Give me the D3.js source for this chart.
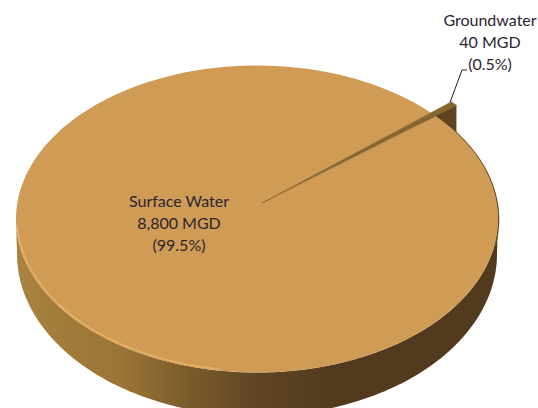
<!DOCTYPE html>
<html>
<head>
<meta charset="utf-8">
<script src="https://cdn.jsdelivr.net/npm/d3@7/dist/d3.min.js"></script>
<style>
    html, body { margin: 0; padding: 0; background: #fff; }
    svg { display: block; }
</style>
</head>
<body>
<div id="chart"></div>
<script>
const categories = ['Surface Water', 'Groundwater']
const flows = [8800, 40] // MGD
const shares = ['99.5%', '0.5%']

const width = 538, height = 408

// top face, bottom edge and the point the slices meet at
const top_face = {cx: 257, cy: 219, rx: 241, ry: 153.5}
const bottom_face = {cx: 257, cy: 254, rx: 240, ry: 162}
const apex = [262, 203]
const lift = 1.12 // how far the small slice is pulled out
const first_angle = 46.2 * Math.PI / 180

const svg = d3.select('#chart').append('svg')
    .attr('width', width)
    .attr('height', height)

const defs = svg.append('defs')

const wall_fill = defs.append('linearGradient')
    .attr('id', 'wall')
    .attr('gradientUnits', 'userSpaceOnUse')
    .attr('x1', 16).attr('x2', 498).attr('y1', 0).attr('y2', 0)

const wall_stops = [[0, '#a9833f'], [0.1, '#a17b39'], [0.22, '#9a7536'], [0.36, '#7b5b2c'], [0.5, '#5f4523'], [0.66, '#523a1e'], [1, '#523a1e']]
wall_fill.selectAll('stop')
    .data(wall_stops)
    .enter()
    .append('stop')
    .attr('offset', d => d[0])
    .attr('stop-color', d => d[1])

const pie = d3.pie()
    .sort(null)
    .startAngle(first_angle)
    .endAngle(first_angle + 2 * Math.PI)

const slices = pie(flows.slice().reverse()) // small slice first, clockwise from there
const small = slices[0], big = slices[1]

function edge(face, a){
    return [face.cx + face.rx * Math.sin(a), face.cy - face.ry * Math.cos(a)]
}
// r = 1 sits on the rim of the top face
function project(a, r){
    const p = edge(top_face, a)
    return [apex[0] + r * (p[0] - apex[0]), apex[1] + r * (p[1] - apex[1])]
}
function rim(face, a0, a1){
    const n = 180
    return d3.range(n + 1).map(i => edge(face, a0 + (a1 - a0) * i / n))
}

const line = d3.line()

// outer wall, front half only
svg.append('path')
    .attr('d', line(rim(top_face, Math.PI / 2, 3 * Math.PI / 2).concat(rim(bottom_face, 3 * Math.PI / 2, Math.PI / 2))) + 'Z')
    .attr('fill', 'url(#wall)')

// side wall of the pulled out slice, the big slice covers its lower part
const tip_low = project(small.endAngle, lift)
const tip_high = project(small.startAngle, lift)
svg.append('path')
    .attr('d', line([project(small.endAngle, 0.9), tip_high, tip_low, [tip_low[0], tip_low[1] + 34]]) + 'Z')
    .attr('fill', '#5e4420')

// thin dark edge behind the right shoulder
svg.append('path')
    .attr('d', line(rim({cx: 257.5, cy: 219.5, rx: 241, ry: 153.5}, 0.95, 1.75)))
    .attr('fill', 'none')
    .attr('stroke', '#6b5128')
    .attr('stroke-width', 1.6)

// big slice
svg.append('path')
    .attr('d', line([apex].concat(rim(top_face, big.startAngle, big.endAngle))) + 'Z')
    .attr('fill', '#d09b54')

// light rim along the lower left
svg.append('path')
    .attr('d', line(rim({cx: 257, cy: 218, rx: 240, ry: 153}, 3.3, 4.65)))
    .attr('fill', 'none')
    .attr('stroke', '#e6b163')
    .attr('stroke-width', 1.5)

// top of the small slice, stroked so it stays visible close to the centre
svg.append('path')
    .attr('d', line([apex, tip_high, tip_low]) + 'Z')
    .attr('fill', '#86652e')
    .attr('stroke', '#86652e')
    .attr('stroke-width', 0.7)
    .attr('stroke-linejoin', 'round')

// leader for the small slice
svg.append('path')
    .attr('d', line([[tip_high[0] - 1, tip_high[1]], [462, 70], [467, 70]]))
    .attr('fill', 'none')
    .attr('stroke', '#222')
    .attr('stroke-width', 1)

function drawLabel(x, y, i){
    const lines = [categories[i], d3.format(',')(flows[i]) + ' MGD', '(' + shares[i] + ')']
    svg.selectAll('label' + i)
        .data(lines)
        .enter()
        .append('text')
        .attr('x', x)
        .attr('y', (d, j) => y + j * 22.2)
        .attr('text-anchor', 'middle')
        .attr('font-family', 'Lato, sans-serif')
        .attr('font-size', 16)
        .attr('fill', '#2b2530')
        .text(d => d)
}

drawLabel(179, 207, 0)
drawLabel(490, 26, 1)
</script>
</body>
</html>
